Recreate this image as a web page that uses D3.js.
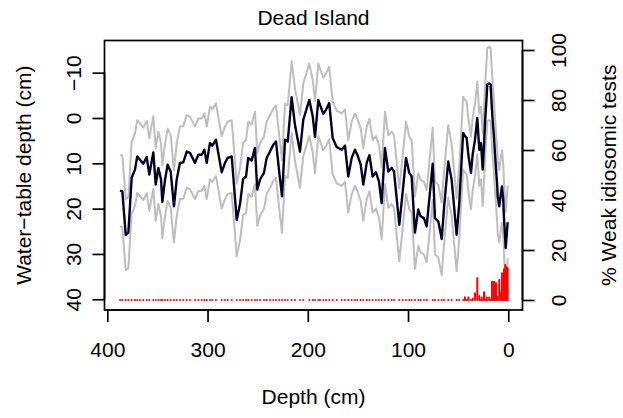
<!DOCTYPE html>
<html>
<head>
<meta charset="utf-8">
<script src="https://cdn.jsdelivr.net/npm/d3@7"></script>
<style>
  body { margin: 0; background: #fff; }
  svg { display: block; font-family: "Liberation Sans", Arial, sans-serif; }
</style>
</head>
<body>
<div class="chart"></div>
<script>
// core samples, depth in cm (deep -> surface)
var depth = [
  387.3, 385.0, 381.6, 379.0, 375.7, 372.4, 370.1, 367.4, 364.1, 360.7,
  358.1, 354.1, 351.7, 349.1, 346.4, 345.1, 342.4, 339.8, 336.8, 333.5,
  330.8, 327.5, 324.2, 320.8, 317.5, 312.5, 309.2, 305.8, 303.2, 300.8,
  297.6, 295.3, 291.6, 285.9, 282.6, 279.9, 275.9, 270.9, 267.6, 264.5,
  261.6, 259.4, 256.0, 252.7, 250.4, 247.7, 243.7, 241.0, 237.7, 234.4,
  231.7, 228.4, 225.7, 222.7, 220.0, 216.1, 212.8, 207.8, 204.5, 198.5,
  195.1, 192.8, 189.5, 187.8, 184.5, 181.8, 178.6, 175.2, 171.2, 166.2,
  162.9, 159.6, 156.2, 152.9, 150.6, 147.2, 144.6, 141.2, 138.5, 135.3,
  132.0, 129.0, 126.3, 123.0, 119.7, 116.3, 114.0, 108.7, 105.3, 102.0,
  98.8, 96.4, 93.1, 89.8, 87.4, 84.1, 81.4, 75.4, 73.1, 69.8,
  66.4, 64.1, 59.9, 56.5, 51.5, 48.9, 45.0, 43.2, 41.5, 39.9,
  37.2, 35.5, 33.2, 30.9, 28.9, 27.2, 26.5, 25.5, 24.2, 23.2,
  21.5, 20.9, 19.0, 17.6, 16.3, 15.6, 14.3, 13.3, 12.3, 11.0,
  10.6, 9.0, 7.6, 6.3, 5.0, 4.3, 3.0, 2.6, 1.6, 0.6
];

// reconstructed water-table depth (cm)
var wtd = [
  16.0, 16.2, 25.8, 25.3, 13.2, 11.4, 8.5, 9.2, 10.1, 8.6,
  12.5, 7.6, 14.7, 11.0, 13.6, 18.5, 13.6, 10.3, 11.8, 19.5,
  13.6, 9.9, 9.8, 7.4, 7.7, 9.9, 8.1, 8.1, 7.0, 9.9,
  5.5, 6.1, 4.8, 12.0, 9.9, 8.8, 8.5, 22.5, 19.0, 13.4,
  12.9, 8.8, 9.4, 6.6, 15.8, 13.6, 12.1, 8.8, 7.4, 5.9,
  5.2, 12.1, 17.3, 4.8, 5.2, -4.6, 1.5, 7.4, 0.4, -4.0,
  -0.4, 4.2, -4.0, -2.9, -0.9, -1.8, -3.3, 4.4, 6.4, 7.0,
  6.1, 12.9, 8.8, 7.0, 8.1, 10.3, 14.7, 9.9, 8.2, 12.9,
  12.0, 14.0, 18.8, 6.6, 11.8, 11.0, 11.8, 23.6, 16.2, 8.8,
  12.1, 12.9, 25.3, 20.2, 21.7, 22.1, 23.9, 10.1, 22.1, 22.8,
  26.7, 19.9, 9.6, 13.6, 25.8, 18.8, 3.3, 4.0, 4.4, 8.0,
  12.1, 8.0, 4.8, 0.0, 7.0, 5.5, 8.0, 11.4, 6.0, 1.1,
  -5.0, -7.4, -7.6, -7.4, -2.0, 0.4, 4.0, 7.7, 11.0, 15.0,
  17.3, 19.5, 17.0, 15.1, 18.0, 22.0, 27.0, 28.7, 26.0, 23.0
];

// sample-specific error (cm), grey envelope = wtd +/- error
var wtdErr = [
  7.9, 7.9, 7.8, 7.8, 7.9, 8.0, 8.0, 8.0, 8.0, 8.0,
  8.0, 8.0, 8.0, 8.0, 8.0, 8.0, 8.0, 8.0, 8.0, 8.0,
  8.0, 8.0, 8.0, 8.0, 8.0, 8.0, 8.0, 8.0, 8.0, 8.0,
  8.0, 8.0, 8.0, 8.0, 8.0, 8.0, 8.0, 8.0, 8.0, 8.0,
  8.0, 8.0, 8.0, 8.0, 8.0, 8.0, 8.0, 8.0, 8.0, 8.0,
  8.0, 8.0, 8.0, 8.0, 8.0, 7.9, 8.0, 8.0, 8.0, 8.0,
  8.0, 8.0, 8.0, 8.0, 8.0, 8.0, 8.0, 8.0, 8.0, 8.0,
  8.0, 8.0, 8.0, 8.0, 8.0, 8.0, 8.0, 8.0, 8.0, 8.0,
  8.0, 8.0, 8.0, 8.0, 8.0, 8.0, 8.0, 8.0, 8.0, 8.0,
  8.0, 8.0, 8.0, 8.0, 8.0, 8.0, 8.0, 8.0, 8.0, 8.0,
  8.0, 8.0, 8.0, 8.0, 8.0, 8.0, 8.0, 8.0, 8.0, 8.0,
  8.0, 8.0, 8.0, 8.0, 8.0, 8.0, 8.0, 8.0, 8.0, 8.0,
  8.0, 8.1, 8.1, 8.1, 8.0, 8.0, 8.0, 8.0, 8.0, 8.0,
  8.0, 8.0, 8.0, 8.0, 8.0, 8.0, 8.0, 8.0, 8.0, 8.0
];

// % weak idiosomic tests
var weakPct = [
  0, 0, 0, 0, 0, 0, 0, 0, 0, 0,
  0, 0, 0, 0, 0, 0, 0, 0, 0, 0,
  0, 0, 0, 0, 0, 0, 0, 0, 0, 0,
  0, 0, 0, 0, 0, 0, 0, 0, 0, 0,
  0, 0, 0, 0, 0, 0, 0, 0, 0, 0,
  0, 0, 0, 0, 0, 0, 0, 0, 0, 0,
  0, 0, 0, 0, 0, 0, 0, 0, 0, 0,
  0, 0, 0, 0, 0, 0, 0, 0, 0, 0,
  0, 0, 0, 0, 0, 0, 0, 0, 0, 0,
  0, 0, 0, 0, 0, 0, 0, 0, 0, 0,
  0, 0, 0, 0, 0, 0, 0, 1.1, 0, 1.0,
  0, 0.5, 2.7, 8.7, 1.6, 0, 1.0, 0, 3.1, 0,
  1.0, 0, 1.0, 0, 7.3, 0, 7.3, 0, 6.7, 1.5,
  0, 8.0, 3.0, 10.7, 0, 12.3, 14.0, 0, 13.0, 12.7
];

var depthTicks = [400, 300, 200, 100, 0];
var wtdTicks = [-10, 0, 10, 20, 30, 40];
var pctTicks = [0, 20, 40, 60, 80, 100];

var chartTitle = "Dead Island";
var xLabel = "Depth (cm)";
var yLabel = "Water\u2212table depth (cm)";
var y2Label = "% Weak idiosomic tests";

// layout
var W = 623, H = 418;
var margin = { top: 40.5, right: 100.5, bottom: 108, left: 104.5 };
var fontSize = 21, lineH = 24, tickLen = 12;

var svg = d3.select(".chart").append("svg")
  .attr("width", W)
  .attr("height", H);

// scales, domains stretched so the plot box sits where R put it
var x = d3.scaleLinear().domain([402.8, -14.2]).range([margin.left, W - margin.right]);
var y = d3.scaleLinear().domain([-17.1, 42.37]).range([margin.top, H - margin.bottom]);
var y2 = d3.scaleLinear().domain([103.8, -4.0]).range([margin.top, H - margin.bottom]);

var upper = wtd.map((v, i) => v - wtdErr[i]);
var lower = wtd.map((v, i) => v + wtdErr[i]);

var line = function (vals) {
  return d3.line()
    .x((d, i) => x(depth[i]))
    .y(d => y(d))(vals);
};

// grey error envelope
[upper, lower].forEach(function (s) {
  svg.append("path")
    .attr("d", line(s))
    .attr("fill", "none")
    .attr("stroke", "#bebebe")
    .attr("stroke-width", 2)
    .attr("stroke-linejoin", "round");
});

// reconstruction
svg.append("path")
  .attr("d", line(wtd))
  .attr("fill", "none")
  .attr("stroke", "#000026")
  .attr("stroke-width", 2.4)
  .attr("stroke-linejoin", "round");

// red histogram-type bars (zero values leave a dot)
svg.append("g").selectAll("path")
  .data(weakPct)
  .enter().append("path")
  .attr("d", (d, i) => "M" + x(depth[i]) + "," + y2(0) + "L" + x(depth[i]) + "," + y2(d))
  .attr("stroke", "#ff0000")
  .attr("stroke-width", 2)
  .attr("stroke-linecap", "round");

// plot box
svg.append("rect")
  .attr("x", margin.left)
  .attr("y", margin.top)
  .attr("width", W - margin.left - margin.right)
  .attr("height", H - margin.top - margin.bottom)
  .attr("fill", "none")
  .attr("stroke", "#000")
  .attr("stroke-width", 1.7);

// R style axes: line only between outer ticks
function rAxis(axis, scale, ticks, tx, ty, sideLine) {
  var g = svg.append("g")
    .attr("transform", "translate(" + tx + "," + ty + ")")
    .style("font-size", fontSize + "px")
    .call(axis.tickValues(ticks).tickSize(tickLen).tickSizeOuter(0)
      .tickFormat(d => d3.format("")(d).replace("-", "\u2212")));
  g.select(".domain").remove();
  g.selectAll("line").attr("stroke", "#000").attr("stroke-width", 1.7);
  g.selectAll("text").attr("fill", "#000");
  var e = d3.extent(ticks.map(scale));
  g.append("line")
    .attr(sideLine === "h" ? "x1" : "y1", e[0])
    .attr(sideLine === "h" ? "x2" : "y2", e[1])
    .attr("stroke", "#000")
    .attr("stroke-width", 1.7);
  return g;
}

var H0 = H - margin.bottom;
var gx = rAxis(d3.axisBottom(x), x, depthTicks, 0, H0, "h");
gx.selectAll(".tick text").attr("y", 2 * lineH - 1).attr("dy", null);

var gy = rAxis(d3.axisLeft(y), y, wtdTicks, margin.left, 0, "v");
gy.selectAll(".tick text")
  .attr("x", null).attr("dy", null)
  .attr("text-anchor", "middle")
  .attr("transform", "translate(" + (-lineH) + ",0) rotate(-90)");

var gy2 = rAxis(d3.axisRight(y2), y2, pctTicks, W - margin.right, 0, "v");
gy2.selectAll(".tick text")
  .attr("x", null).attr("dy", null)
  .attr("text-anchor", "middle")
  .attr("transform", "translate(" + (2 * lineH - 5) + ",0) rotate(-90)");

// titles
var midX = (margin.left + W - margin.right) / 2;
var midY = (margin.top + H - margin.bottom) / 2;

svg.append("text")
  .attr("x", midX).attr("y", 25)
  .attr("text-anchor", "middle")
  .style("font-size", fontSize + "px")
  .text(chartTitle);

svg.append("text")
  .attr("x", midX).attr("y", H0 + 4 * lineH - 2)
  .attr("text-anchor", "middle")
  .style("font-size", fontSize + "px")
  .text(xLabel);

svg.append("text")
  .attr("transform", "translate(" + (margin.left - 3 * lineH - 2) + "," + midY + ") rotate(-90)")
  .attr("text-anchor", "middle")
  .style("font-size", fontSize + "px")
  .text(yLabel);

svg.append("text")
  .attr("transform", "translate(" + (W - margin.right + 4 * lineH - 3) + "," + midY + ") rotate(-90)")
  .attr("text-anchor", "middle")
  .style("font-size", fontSize + "px")
  .text(y2Label);
</script>
</body>
</html>
